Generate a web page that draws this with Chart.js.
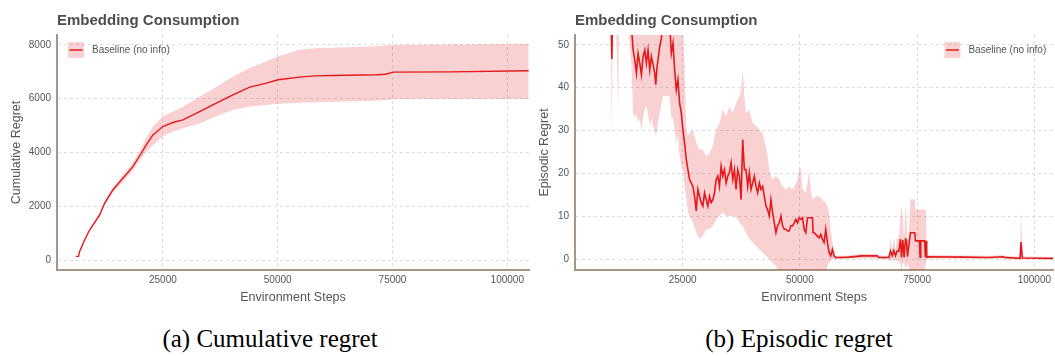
<!DOCTYPE html>
<html>
<head>
<meta charset="utf-8">
<script src="https://cdn.jsdelivr.net/npm/chart.js@4/dist/chart.umd.min.js"></script>
<style>
  html, body { margin: 0; padding: 0; background: #ffffff; }
  #wrap { position: relative; width: 1055px; height: 356px; overflow: hidden; }
  canvas { position: absolute; top: 0; }
  #cumCanvas { left: 0; }
  #epCanvas { left: 535px; }
  .caption {
    position: absolute; top: 326px; width: 420px; text-align: center;
    font-family: "Liberation Serif", "Times New Roman", serif;
    font-size: 25px; line-height: 25px; color: #000;
  }
</style>
</head>
<body>
<div id="wrap">
  <canvas id="cumCanvas" width="535" height="310"></canvas>
  <canvas id="epCanvas" width="520" height="310"></canvas>
  <div class="caption" style="left:60px">(a) Cumulative regret</div>
  <div class="caption" style="left:589px">(b) Episodic regret</div>
</div>
<script>
// ---- shared labels ----
const panelHeading = 'Embedding Consumption';
const seriesLabel = 'Baseline (no info)';
const xAxisLabel = 'Environment Steps';
const xTickValues = [25000, 50000, 75000, 100000];

// ---- cumulative regret: mean and band ----
const cumSteps = [6030, 6620, 6840, 7950, 9040, 11220, 12300, 14100, 16280, 18460,
  20290, 21380, 22820, 25000, 27180, 29360, 33000, 36640, 40260, 43900,
  47540, 50070, 54800, 58000, 62060, 71520, 73500, 75140, 87500, 104660];
const cumMean = [137, 137, 310, 745, 1118, 1676, 2110, 2608, 3042, 3476,
  3972, 4283, 4655, 4966, 5115, 5216, 5523, 5834, 6145, 6432,
  6580, 6707, 6805, 6850, 6865, 6890, 6910, 6988, 7000, 7040];
const cumLower = [130, 125, 290, 710, 1070, 1610, 2030, 2510, 2916, 3330,
  3787, 4020, 4283, 4592, 4778, 4904, 5080, 5350, 5580, 5713,
  5770, 5813, 5850, 5870, 5885, 5925, 5950, 5988, 5988, 5988];
const cumUpper = [145, 150, 330, 780, 1165, 1740, 2190, 2710, 3165, 3620,
  4160, 4560, 4966, 5350, 5520, 5700, 6083, 6432, 6828, 7140,
  7389, 7576, 7823, 7880, 7900, 7949, 7975, 7999, 8015, 8036];
const cumYTicks = [0, 2000, 4000, 6000, 8000];

// ---- episodic regret: mean and band ----
const epSteps = [5800, 7000, 8000, 9000, 9700, 9915, 10100, 10800, 11260, 11450,
  12500, 13500, 14093, 14448, 14800, 15156, 15500, 15870, 16218, 16570,
  16930, 17280, 17630, 17990, 18340, 18697, 19050, 19270, 19550, 19760,
  20113, 20470, 20822, 21530, 22238, 22592, 22950, 23300, 23650, 24000,
  24363, 24720, 25071, 25420, 25779, 26130, 26487, 26841, 27195, 27549,
  27903, 28258, 28612, 28966, 29320, 29674, 30028, 30382, 30736, 31090,
  31444, 31799, 32153, 32507, 32861, 33215, 33569, 33923, 34277, 34631,
  34985, 35340, 35694, 36048, 36402, 36756, 37110, 37464, 37818, 38172,
  38526, 38881, 39235, 39589, 39943, 40297, 40651, 41005, 41359, 41713,
  42067, 42422, 42776, 43130, 43484, 43838, 44192, 44546, 44900, 45254,
  45608, 45963, 46317, 46671, 47025, 47379, 47733, 48087, 48441, 48795,
  49149, 49504, 49858, 50212, 50566, 50920, 51274, 51628, 51982, 52336,
  52690, 52832, 53045, 53399, 53753, 54107, 54461, 54815, 55169, 55523,
  55877, 56231, 56586, 56940, 57294, 57648, 58356, 60481, 63314, 66501,
  66855, 68980, 69334, 69688, 70042, 70396, 70750, 71104, 71458, 71671,
  71954, 72237, 72521, 72734, 72945, 73230, 73583, 74503, 74645, 75495,
  75637, 75778, 76628, 76770, 76912, 77054, 77478, 84560, 90226, 93413,
  93700, 96953, 97166, 97450, 104036];
const epMean = [62, 65, 60, 58, 57, 46.7, 58, 60, 58, 60,
  62, 58, 54, 48.8, 46.5, 43.4, 48, 45.7, 43, 47.3,
  48.8, 45.7, 48.8, 44.2, 47.3, 45.4, 43.4, 40.7, 44.9, 46.5,
  49.6, 51.5, 56, 57, 55, 48, 50.4, 44.2, 39.5, 41.9,
  36.4, 34.1, 30.2, 27.1, 23.3, 20.9, 18.6, 17.8, 17.0, 14.7,
  11.3, 16.3, 14.7, 13.2, 12.4, 15.5, 13.9, 12.4, 14.7, 13.2,
  13.9, 15.5, 18.6, 19.4, 17.0, 21.7, 19.4, 20.9, 17.8, 19.4,
  20.2, 22.5, 18.6, 20.9, 16.3, 20.9, 19.4, 13.9, 27.9, 20.9,
  20.9, 17.0, 20.2, 16.3, 17.8, 19.4, 17.0, 15.5, 17.8, 16.3,
  17.0, 14.7, 12.4, 11.6, 10.1, 13.9, 10.9, 8.5, 6.2, 7.8,
  8.5, 10.1, 7.8, 7.0, 7.0, 6.6, 6.6, 7.8, 7.8, 8.5,
  9.3, 8.5, 9.7, 9.3, 9.7, 7.0, 6.2, 9.7, 9.7, 9.7,
  9.7, 6.2, 6.2, 5.8, 5.4, 5.0, 5.8, 4.7, 3.9, 7.0,
  3.9, 1.6, 0.8, 2.3, 0.8, 0.4, 0.4, 0.5, 0.8, 0.8,
  0.4, 0.4, 1.9, 0.8, 2.0, 0.8, 1.9, 1.9, 4.7, 0.4,
  4.5, 0.4, 4.7, 4.5, 0.6, 3.1, 6.2, 6.2, 4.3, 4.3,
  0.5, 4.3, 4.3, 0.5, 4.3, 0.5, 0.6, 0.5, 0.4, 0.6,
  0.4, 0.2, 4.0, 0.3, 0.2];
const epLower = [55, 56, 54, 53, 54, 28, 54, 55, 35, 55,
  55, 53, 45, 34, 33, 34, 32, 32.6, 30, 33,
  35, 35.7, 34, 31, 33, 31, 30, 28.7, 30, 32,
  34, 36, 38, 38, 38, 33, 33, 30, 27, 29,
  24, 22, 20.9, 17, 14.3, 11, 10.1, 9.3, 8.5, 7.3,
  6.2, 5.4, 4.7, 5.0, 5.4, 6.2, 7.0, 7.0, 7.0, 7.4,
  7.8, 8.5, 9.3, 9.7, 10.1, 10.5, 10.9, 10.5, 10.1, 10.1,
  10.1, 10.1, 10.1, 10.1, 9.7, 9.3, 8.5, 8.1, 7.8, 7.0,
  6.2, 5.4, 4.7, 4.3, 3.9, 3.5, 3.1, 2.7, 2.3, 1.9,
  1.6, 1.2, 0.8, 0.4, 0.0, -0.4, -0.8, -1.2, -1.6, -2.3,
  -3, -3, -3, -3, -3, -3, -3, -3, -3, -3,
  -3, -3, -3, -3, -3, -3, -3, -3, -3, -3,
  -3, -3, -3, -3, -3, -3, -3, -3, -3, -2.8,
  -1.6, -0.8, -0.4, 0, 0, 0, 0, 0.1, 0.2, 0.2,
  0, 0, -0.5, 0, -0.5, 0, -0.5, -0.5, -1, -3,
  -1, -1, -2, -2, -1, -2, -3, -3, -3, -3,
  -3, -3, -3, -2, -1, 0, 0.2, 0.2, 0.1, 0.2,
  0.1, 0, 0, 0, 0];
const epUpper = [75, 78, 72, 70, 70, 60, 70, 72, 70, 72,
  75, 70, 65, 60, 60, 58, 60, 58, 56, 60,
  60, 58, 60, 57, 60, 58, 56, 54, 57, 58,
  62, 64, 68, 70, 68, 62, 63, 56, 54, 55,
  53, 53, 54, 45, 30.2, 29, 29.5, 29.8, 30.2, 28.8,
  27.1, 26.4, 25.6, 25.6, 25.6, 24.8, 24.0, 24.4, 24.8, 25.6,
  26.4, 28.7, 30.2, 31.0, 31.8, 33.3, 34.9, 34.1, 33.3, 34.5,
  35.7, 34.9, 34.1, 35.3, 36.4, 37.2, 38.0, 39.5, 44.2, 38.0,
  34.1, 34.5, 34.9, 33.3, 31.8, 31.4, 31.0, 30.6, 30.2, 29.8,
  29.5, 27.9, 26.4, 24.0, 20.9, 19.4, 18.6, 19.0, 19.4, 19.0,
  18.6, 17.8, 17.0, 16.7, 16.3, 16.7, 17.0, 16.7, 16.3, 17.0,
  17.8, 18.6, 20.9, 21.3, 16.3, 15.9, 15.5, 17.8, 20.9, 16.3,
  13.9, 14.3, 14.3, 14.7, 14.7, 14.7, 14.3, 13.9, 13.6, 13.2,
  12.4, 10.9, 7.0, 3.9, 2.3, 0.8, 0.8, 0.9, 1.3, 1.3,
  0.8, 0.9, 5, 2, 5, 2, 5, 5, 10, 12.4,
  10, 4, 12.4, 10, 4, 6, 14, 14, 11.6, 11.6,
  11.6, 11.6, 11.6, 11.6, 11, 2, 1.0, 0.9, 0.8, 1.0,
  0.8, 0.6, 11.6, 0.7, 0.5];
const epYTicks = [0, 10, 20, 30, 40, 50];

// ---- styling ----
const lineColor = '#e41a1c';
const bandColor = 'rgba(228, 26, 28, 0.2)';
const textColor = '#555555';
const headingColor = '#4d4d4d';
const gridColor = '#dcdcdc';
const axisLineColor = '#a89684';
const sans = '"Liberation Sans", Arial, Helvetica, sans-serif';

const toPoints = (xs, ys) => xs.map((x, i) => ({ x, y: ys[i] }));

// Heading above the plot plus an in-plot legend key (band swatch with line)
const panelDecor = {
  id: 'panelDecor',
  afterDraw(chart, args, opts) {
    const { ctx, chartArea } = chart;
    ctx.save();
    ctx.font = 'bold 15px ' + sans;
    ctx.fillStyle = headingColor;
    ctx.textAlign = 'left';
    ctx.textBaseline = 'alphabetic';
    ctx.fillText(opts.heading, chartArea.left, 25);

    const label = chart.data.datasets[0].label;
    ctx.font = '10px ' + sans;
    const tw = ctx.measureText(label).width;
    const box = 16, gap = 8;
    const bx = opts.legendAlign === 'right'
      ? chartArea.right - 7 - tw - gap - box
      : chartArea.left + 11;
    const by = chartArea.top + 7;
    ctx.fillStyle = bandColor;
    ctx.fillRect(bx, by, box, box);
    ctx.strokeStyle = lineColor;
    ctx.lineWidth = 1.5;
    ctx.beginPath();
    ctx.moveTo(bx + 1.5, by + box / 2);
    ctx.lineTo(bx + box - 1.5, by + box / 2);
    ctx.stroke();
    ctx.fillStyle = textColor;
    ctx.textBaseline = 'middle';
    ctx.fillText(label, bx + box + gap, by + box / 2 + 0.5);
    ctx.restore();
  }
};

function makePanel(canvasId, cfg) {
  return new Chart(document.getElementById(canvasId), {
    type: 'line',
    data: {
      datasets: [
        {
          label: seriesLabel,
          data: toPoints(cfg.steps, cfg.mean),
          borderColor: lineColor,
          borderWidth: cfg.lineWidth,
          pointRadius: 0,
          tension: 0,
          fill: false,
          clip: 0
        },
        {
          label: 'upper',
          data: toPoints(cfg.steps, cfg.upper),
          borderWidth: 0,
          borderColor: 'rgba(0,0,0,0)',
          backgroundColor: bandColor,
          pointRadius: 0,
          tension: 0,
          fill: '+1',
          clip: 0
        },
        {
          label: 'lower',
          data: toPoints(cfg.steps, cfg.lower),
          borderWidth: 0,
          borderColor: 'rgba(0,0,0,0)',
          pointRadius: 0,
          tension: 0,
          fill: false,
          clip: 0
        }
      ]
    },
    options: {
      responsive: false,
      animation: false,
      devicePixelRatio: 1,
      layout: { padding: { top: 35, right: cfg.rightPad, bottom: 0, left: 0 } },
      plugins: {
        legend: { display: false },
        title: { display: false },
        tooltip: { enabled: false },
        panelDecor: { heading: panelHeading, legendAlign: cfg.legendAlign }
      },
      scales: {
        x: {
          type: 'linear',
          min: cfg.xMin,
          max: cfg.xMax,
          afterBuildTicks: s => { s.ticks = xTickValues.map(v => ({ value: v })); },
          afterFit: s => { s.height = 40; },
          ticks: {
            color: textColor, font: { family: sans, size: 10 }, padding: 4,
            maxRotation: 0, autoSkip: false, callback: v => String(v)
          },
          grid: { color: gridColor, lineWidth: 1, drawTicks: false },
          border: { display: true, color: axisLineColor, width: 2, dash: [3, 3] },
          title: {
            display: true, text: xAxisLabel, color: textColor,
            font: { family: sans, size: 12.5 }, padding: { top: 0, bottom: 5 }
          }
        },
        y: {
          type: 'linear',
          min: cfg.yMin,
          max: cfg.yMax,
          afterBuildTicks: s => { s.ticks = cfg.yTicks.map(v => ({ value: v })); },
          afterFit: s => { s.width = cfg.yAxisWidth; },
          ticks: {
            color: textColor, font: { family: sans, size: 10 }, padding: 6,
            autoSkip: false, callback: v => String(v)
          },
          grid: { color: gridColor, lineWidth: 1, drawTicks: false },
          border: { display: true, color: axisLineColor, width: 2, dash: [3, 3] },
          title: {
            display: true, text: cfg.yLabel, color: textColor,
            font: { family: sans, size: 12.5 }, padding: { top: cfg.yTitlePad, bottom: 0 }
          }
        }
      }
    },
    plugins: [panelDecor]
  });
}

makePanel('cumCanvas', {
  steps: cumSteps, mean: cumMean, lower: cumLower, upper: cumUpper,
  yTicks: cumYTicks, yLabel: 'Cumulative Regret',
  xMin: 1936, xMax: 104730, yMin: -370, yMax: 8370,
  yAxisWidth: 57, rightPad: 6, yTitlePad: 9, lineWidth: 1.4,
  legendAlign: 'left'
});

makePanel('epCanvas', {
  steps: epSteps, mean: epMean, lower: epLower, upper: epUpper,
  yTicks: epYTicks, yLabel: 'Episodic Regret',
  xMin: 2054, xMax: 104037, yMin: -2.5, yMax: 52.3,
  yAxisWidth: 40, rightPad: 0, yTitlePad: 2.5, lineWidth: 1.6,
  legendAlign: 'right'
});
</script>
</body>
</html>
